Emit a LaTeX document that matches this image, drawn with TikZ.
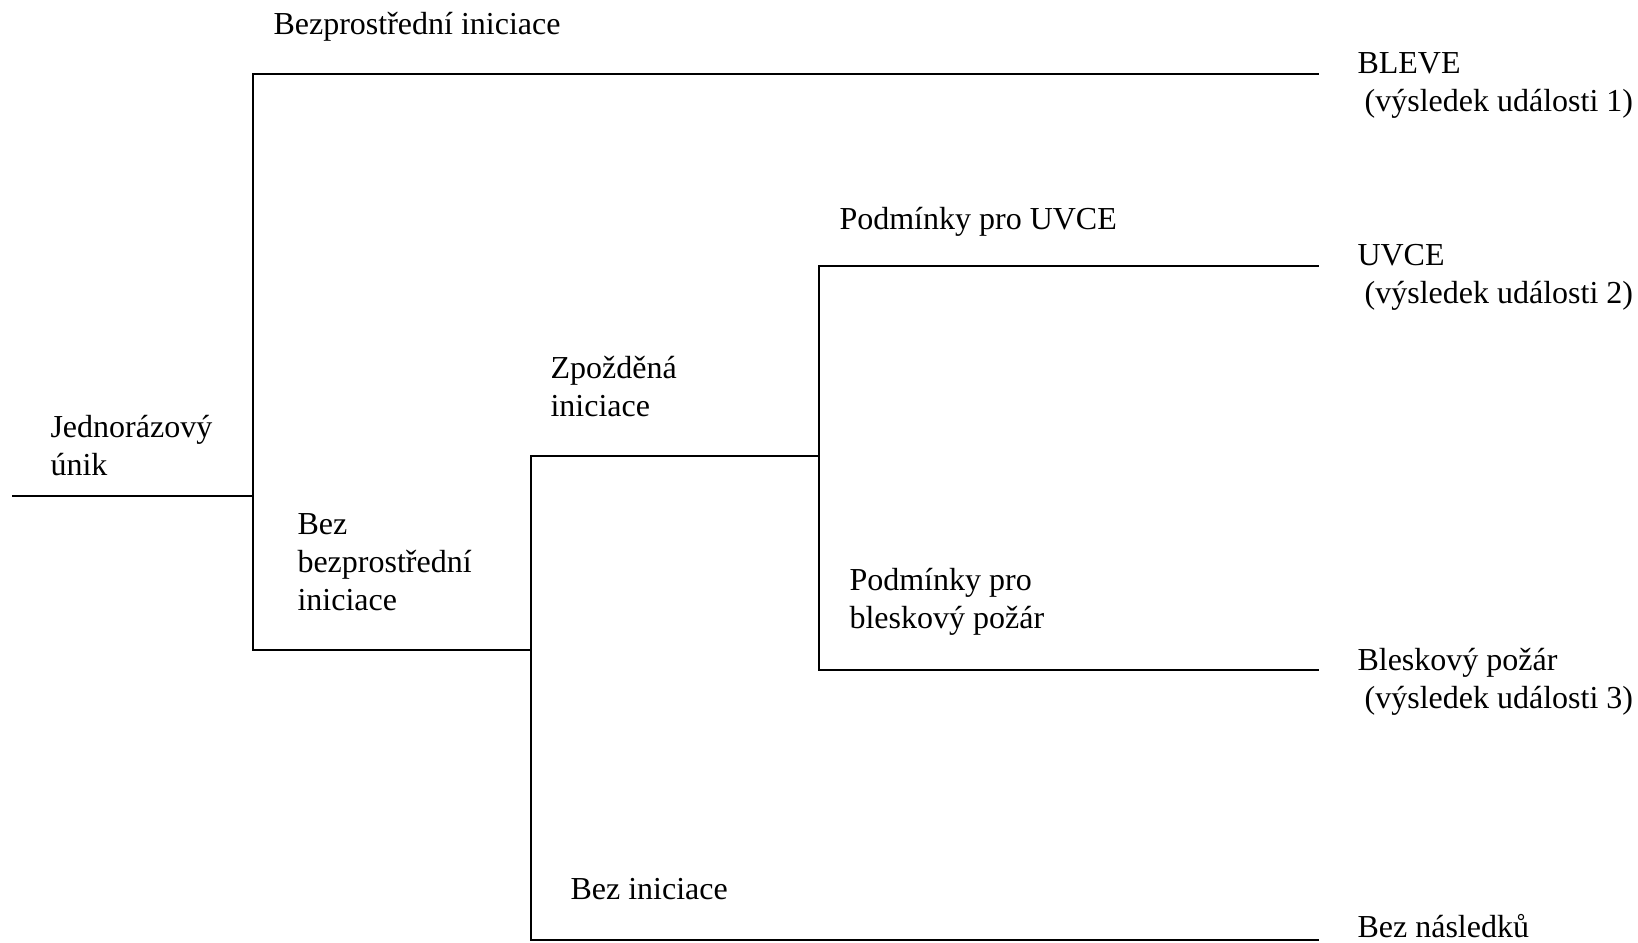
\documentclass[tikz,border=0pt]{standalone}
\usepackage{fontspec}
\setmainfont{Liberation Serif}
\usetikzlibrary{calc}

\tikzset{
  branch/.style={line width=0.7pt, line cap=rect},
  evtxt/.style={anchor=base west, inner sep=0pt, align=left,
                font=\fontsize{12}{14.1}\selectfont},
  % base anchor sits on the last line: move down by the extra lines
  lines2/.style={yshift=-14.1pt},
  lines3/.style={yshift=-28.2pt}
}

\begin{document}
\begin{tikzpicture}[x=0.375pt, y=-0.375pt]

    % page frame
    \useasboundingbox (0,0) rectangle (1638,943);

    % branch points of the tree
    \coordinate (start)    at (13,496);
    \coordinate (root)     at (253,496);
    \coordinate (rootup)   at (253,74);
    \coordinate (rootdn)   at (253,650);
    \coordinate (delay)    at (531,650);
    \coordinate (delayup)  at (531,456);
    \coordinate (delaydn)  at (531,940);
    \coordinate (cond)     at (819,456);
    \coordinate (condup)   at (819,266);
    \coordinate (conddn)   at (819,670);

    % outcome ends
    \coordinate (endbleve) at (1318,74);
    \coordinate (enduvce)  at (1318,266);
    \coordinate (endflash) at (1318,670);
    \coordinate (endnone)  at (1318,940);

    % initial release and first split
    \draw[branch] (start) -- (root);
    \draw[branch] (endbleve) -- (rootup) -- (rootdn) -- (delay);

    % delayed ignition / no ignition
    \draw[branch] (cond) -- (delayup) -- (delaydn) -- (endnone);

    % UVCE / flash fire
    \draw[branch] (enduvce) -- (condup) -- (conddn) -- (endflash);

    % branch labels (positions = baseline of the first line)
    \node[evtxt, lines2] (release)  at (50,438)  {Jednorázový\\únik};
    \node[evtxt] (immed)    at (273,35)  {Bezprostřední iniciace};
    \node[evtxt, lines3] (notimmed) at (297,535) {Bez\\bezprostřední\\iniciace};
    \node[evtxt, lines2] (delayed)  at (550,379) {Zpožděná\\iniciace};
    \node[evtxt] (noign)    at (570,900) {Bez iniciace};
    \node[evtxt] (uvcecond) at (839,230) {Podmínky pro UVCE};
    \node[evtxt, lines2] (flashcond) at (849,591) {Podmínky pro\\bleskový požár};

    % outcomes
    \node[evtxt, lines2] (bleve) at (1357,74)  {BLEVE\\\hspace{2.7pt}(výsledek události 1)};
    \node[evtxt, lines2] (uvce)  at (1357,266) {UVCE\\\hspace{2.7pt}(výsledek události 2)};
    \node[evtxt, lines2] (flash) at (1357,671) {Bleskový požár\\\hspace{2.7pt}(výsledek události 3)};
    \node[evtxt] (none)  at (1357,938) {Bez následků};

\end{tikzpicture}
\end{document}
